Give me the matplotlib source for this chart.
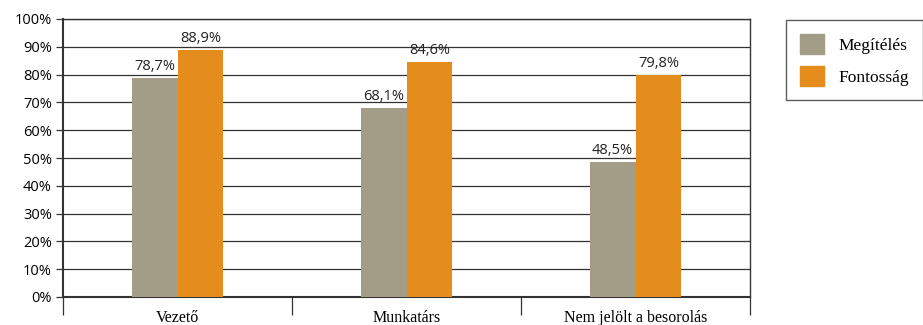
import numpy as np
import matplotlib
matplotlib.use("Agg")
import matplotlib.pyplot as plt
from matplotlib.patches import Patch

# data
categories = ["Vezető", "Munkatárs", "Nem jelölt a besorolás"]
megiteles = [78.7, 68.1, 48.5]
fontossag = [88.9, 84.6, 79.8]
series_names = ["Megítélés", "Fontosság"]
colors = ["#A39D87", "#E48D1D"]

fig = plt.figure(figsize=(9.23, 3.25), dpi=100)
ax = fig.add_axes([63/923, 28/325, 687/923, 278/325])

x = np.arange(len(categories)) + 0.5
w = 0.2
b1 = ax.bar(x - w/2, megiteles, w, color=colors[0], zorder=3)
b2 = ax.bar(x + w/2, fontossag, w, color=colors[1], zorder=3)

for bars, vals in ((b1, megiteles), (b2, fontossag)):
    for r, v in zip(bars, vals):
        ax.text(r.get_x() + r.get_width()/2, v + 1.5, f"{v:.1f}%".replace(".", ","),
                ha="center", va="bottom", fontsize=10.5, family="Open Sans", color="#222222")

ax.set_xlim(0, 3)
ax.set_ylim(0, 100)
ax.set_yticks(range(0, 101, 10))
ax.set_yticklabels([f"{t}%" for t in range(0, 101, 10)], family="Open Sans", fontsize=10.5)
ax.yaxis.grid(True, color="#333333", linewidth=0.9, zorder=0)

ax.set_xticks(x)
ax.set_xticklabels(categories, family="Liberation Serif", fontsize=11.5)
ax.tick_params(axis="x", which="major", length=0, pad=9)
ax.set_xticks([0, 1, 2, 3], minor=True)
ax.tick_params(axis="x", which="minor", length=13, width=0.9, color="#333333")
ax.tick_params(axis="y", length=5, width=0.9, color="#333333", pad=3)

for s in ax.spines.values():
    s.set_color("#333333")
    s.set_linewidth(1.0)
ax.spines["left"].set_linewidth(1.5)
ax.spines["bottom"].set_linewidth(1.5)

handles = [Patch(color=c) for c in colors]
leg = fig.legend(handles, series_names, loc="upper left", bbox_to_anchor=(786/923, 1 - 20/325),
                 prop={"family": "Liberation Serif", "size": 12.5}, frameon=True, fancybox=False,
                 handlelength=1.4, handleheight=1.4, handletextpad=0.8, borderpad=0.8,
                 labelspacing=0.7, borderaxespad=0)
leg.get_frame().set_edgecolor("#333333")
leg.get_frame().set_linewidth(1.0)

fig.savefig("out.png", dpi=100)
